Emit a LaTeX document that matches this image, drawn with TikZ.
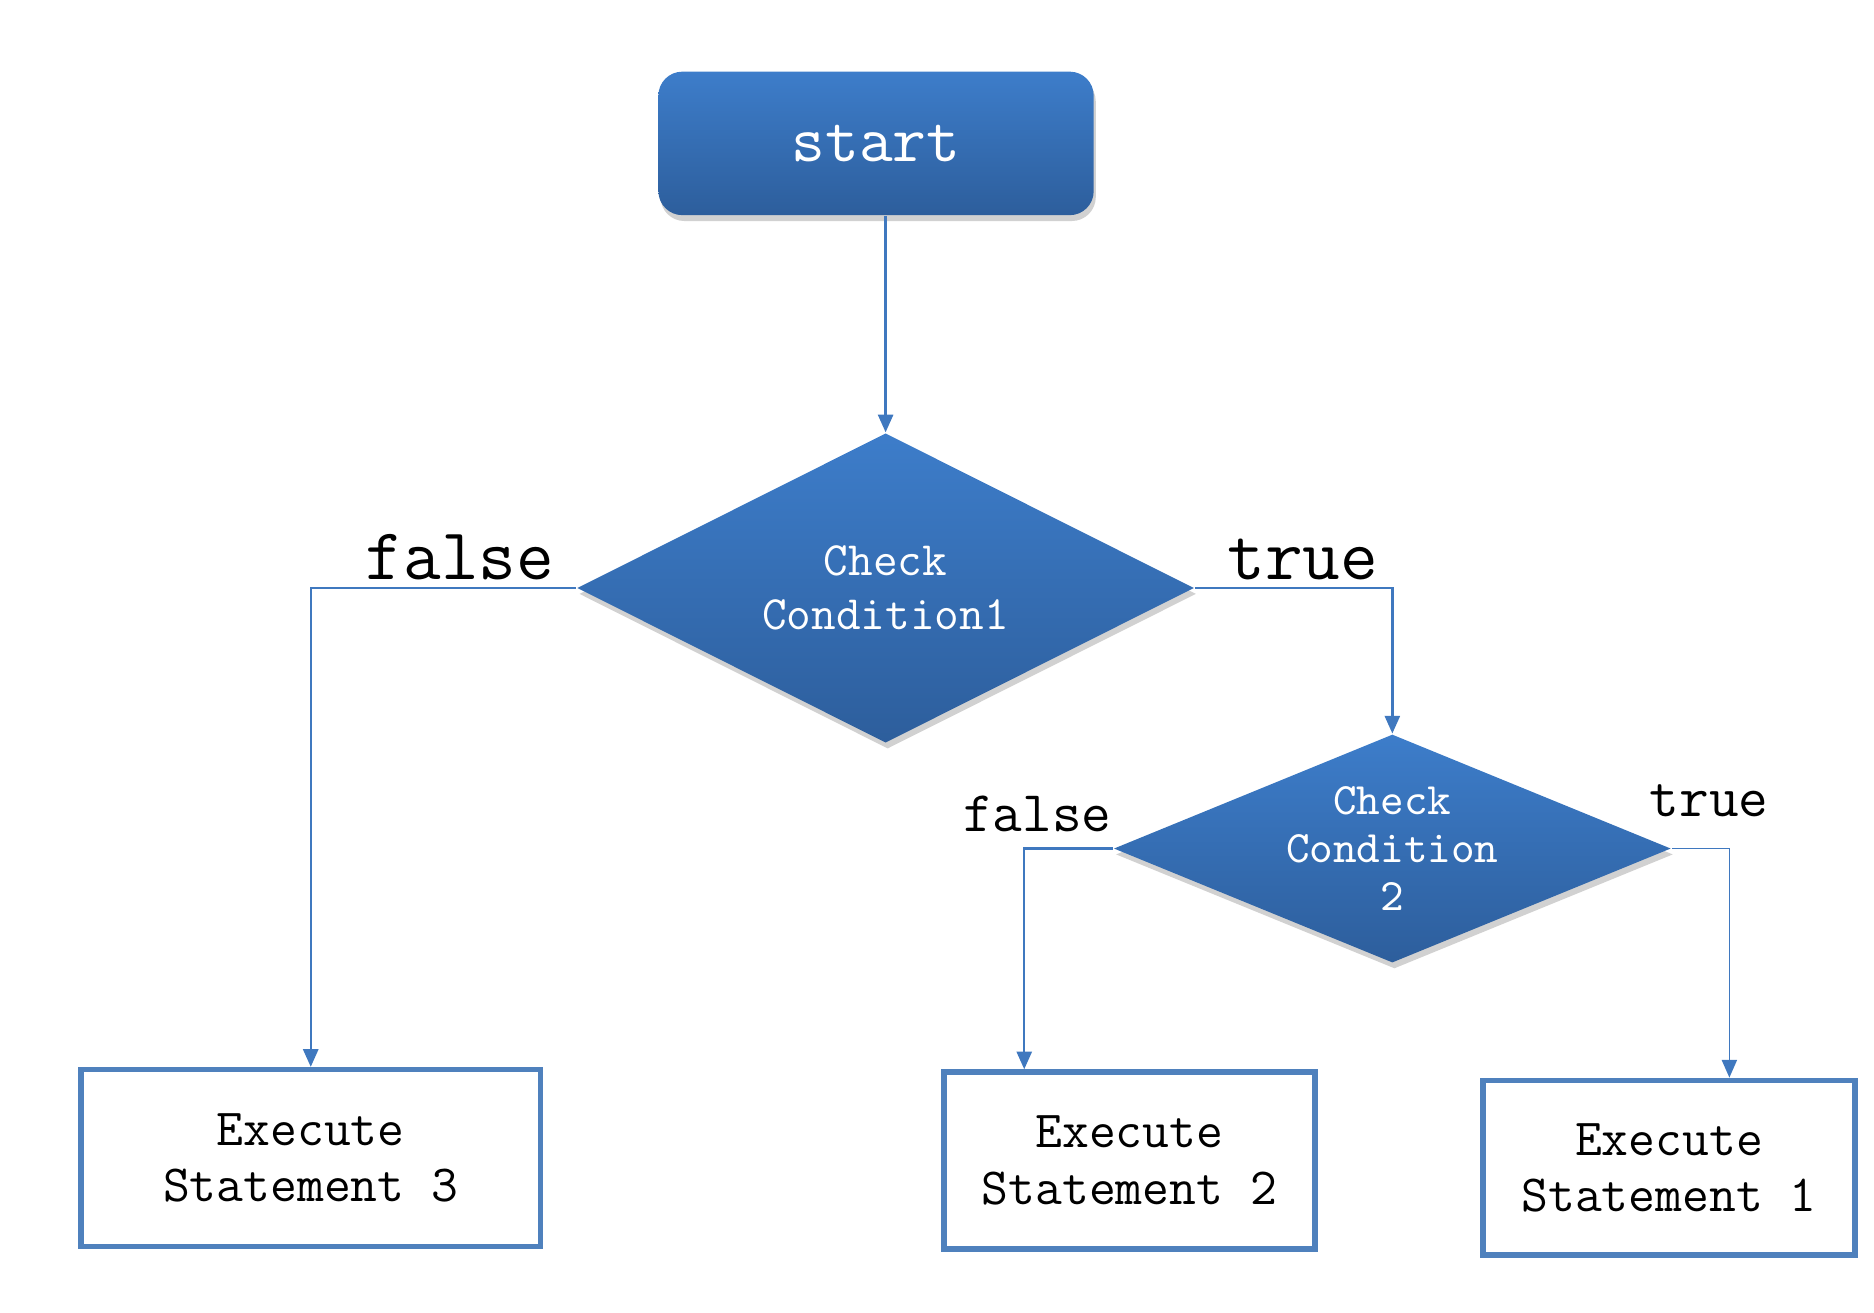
\documentclass[tikz,border=0pt]{standalone}
\usetikzlibrary{shapes.geometric,arrows.meta,shadows,calc}
\definecolor{fillTop}{HTML}{3D7DCA}
\definecolor{fillBot}{HTML}{2D5E9C}
\definecolor{lineBlue}{HTML}{3F78BF}
\definecolor{boxBlue}{HTML}{4F81BD}
\begin{document}
\begin{tikzpicture}[x=0.01cm,y=-0.01cm,
  flowfill/.style={top color=fillTop,bottom color=fillBot,draw=none,text=white,
    drop shadow={opacity=0.3,shadow xshift=0.5pt,shadow yshift=-1.4pt,fill=black!60}},
  startbox/.style={flowfill,rectangle,rounded corners=0.2cm,minimum width=3.64cm,minimum height=1.2cm,
    font=\ttfamily\fontsize{15.6}{18}\selectfont},
  decision/.style={flowfill,diamond,inner sep=0pt,align=center},
  stmt/.style={draw=boxBlue,line width=1.3pt,fill=white,rectangle,align=center,inner sep=0pt,
    font=\ttfamily\fontsize{12.4}{13.4}\selectfont},
  conn/.style={draw=lineBlue,line width=0.55pt,-{Triangle[width=3.6pt,length=4.2pt]}},
  biglab/.style={font=\ttfamily\fontsize{17.4}{18}\selectfont,text=black,inner sep=0pt,anchor=base},
  smalllab/.style={font=\ttfamily\fontsize{13.7}{14}\selectfont,text=black,inner sep=0pt,anchor=base}]
\useasboundingbox (0,0) rectangle (1568,1098);
\node[startbox] (start) at (733,120) {start};
\node[decision,aspect=1.99,minimum width=5.16cm,minimum height=2.59cm,
  font=\ttfamily\fontsize{11.4}{12.8}\selectfont] (d1) at (741,492) {Check\\Condition1};
\node[decision,aspect=2.44,minimum width=4.66cm,minimum height=1.91cm,
  font=\ttfamily\fontsize{10.7}{11.4}\selectfont] (d2) at (1165,710) {Check\\Condition\\2};
\node[stmt,minimum width=3.84cm,minimum height=1.48cm] (s3) at (260,969) {Execute\\Statement 3};
\node[stmt,minimum width=3.10cm,minimum height=1.48cm] (s2) at (945,971) {Execute\\Statement 2};
\node[stmt,minimum width=3.11cm,minimum height=1.46cm] (s1) at (1396.5,977) {Execute\\Statement 1};
\node[biglab] (f1) at (385,485) {false};
\node[biglab] (t1) at (1090,485) {true};
\node[smalllab] (f2) at (868,696) {false};
\node[smalllab] (t2) at (1430,683) {true};
\coordinate (c1) at (260,492);
\coordinate (c2) at (1165,492);
\coordinate (c3) at (857,710);
\coordinate (c4) at (1447,710);
\draw[conn] (d1.north |- start.south) -- (d1.north);
\draw[conn] (d1.west) -- (c1) -- (s3.north);
\draw[conn] (d1.east) -- (c2) -- (d2.north);
\draw[conn] (d2.west) -- (c3) -- (c3 |- s2.north);
\draw[conn,line width=0.35pt] (d2.east) -- (c4) -- (c4 |- s1.north);
\end{tikzpicture}
\end{document}
